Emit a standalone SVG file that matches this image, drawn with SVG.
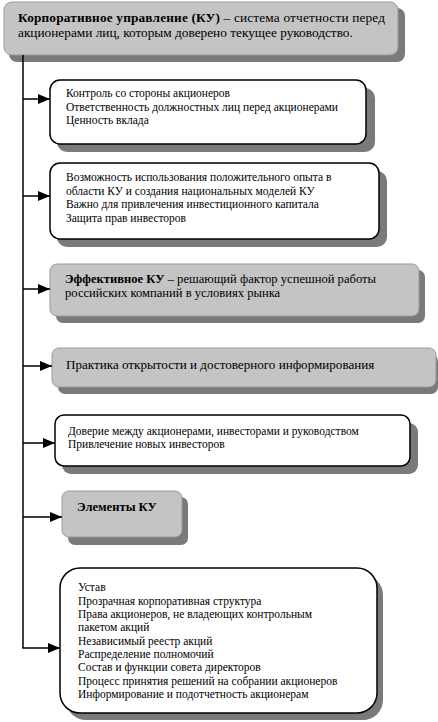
<svg xmlns="http://www.w3.org/2000/svg" width="438" height="722" viewBox="0 0 438 722">
<defs>
<marker id="ah" viewBox="0 0 12 10" refX="12" refY="5" markerWidth="12" markerHeight="10" markerUnits="userSpaceOnUse" orient="auto">
<path d="M0,0 L12,5 L0,10 Z" fill="#000"/>
</marker>
<style>
.t{font-family:"Liberation Serif","Times New Roman",Times,serif;fill:#000}
.s11{font-size:11.5px}
.s12{font-size:12.6px}
.s13{font-size:13.3px}
.p13{font-size:13.1px}
.b{font-weight:bold}
.sh{fill:#7a7a7a}
.gray{fill:#c4c4c4;stroke:#9a9a9a;stroke-width:1}
.white{fill:#fff;stroke:#000;stroke-width:1.5}
.ln{stroke:#000;stroke-width:1.5;fill:none}
</style>
</defs>
<rect width="438" height="722" fill="#fff"/>

<g id="n-top">
<rect x="9" y="8" width="396" height="54" rx="8" class="sh"/>
<rect x="4" y="2" width="394" height="53" rx="8" class="gray"/>
<text class="t s13" x="18" y="22" textLength="367" lengthAdjust="spacing"><tspan class="b">Корпоративное управление (КУ)</tspan> – система отчетности перед</text>
<text class="t s13" x="18" y="37">акционерами лиц, которым доверено текущее руководство.</text>
</g>

<g id="n-control">
<rect x="57" y="88" width="318" height="64" rx="10" class="sh"/>
<rect x="50" y="80" width="316" height="64" rx="10" class="white"/>
<text class="t s11" x="66" y="97">Контроль со стороны акционеров</text>
<text class="t s11" x="66" y="110.5">Ответственность должностных лиц перед акционерами</text>
<text class="t s11" x="66" y="124">Ценность вклада</text>
</g>

<g id="n-opportunity">
<rect x="57" y="171" width="330" height="76" rx="10" class="sh"/>
<rect x="50" y="163" width="329" height="76" rx="10" class="white"/>
<text class="t s11" x="66" y="181">Возможность использования положительного опыта в</text>
<text class="t s11" x="66" y="194.5">области КУ и создания национальных моделей КУ</text>
<text class="t s11" x="66" y="208">Важно для привлечения инвестиционного капитала</text>
<text class="t s11" x="66" y="221.5">Защита прав инвесторов</text>
</g>

<g id="n-effective">
<rect x="56" y="270" width="369" height="53" rx="7" class="sh"/>
<rect x="50" y="264" width="369" height="52" rx="7" class="gray"/>
<text class="t s12" x="65" y="283"><tspan class="b">Эффективное КУ</tspan> – решающий фактор успешной работы</text>
<text class="t s12" x="65" y="297">российских компаний в условиях рынка</text>
</g>

<g id="n-practice">
<rect x="58" y="354" width="380" height="40" rx="7" class="sh"/>
<rect x="52" y="348" width="384" height="39" rx="7" class="gray"/>
<text class="t p13" x="66" y="369">Практика открытости и достоверного информирования</text>
</g>

<g id="n-trust">
<rect x="62" y="423" width="356" height="51" rx="9" class="sh"/>
<rect x="55" y="415" width="355" height="51" rx="9" class="white"/>
<text class="t s11" x="68" y="435">Доверие между акционерами, инвесторами и руководством</text>
<text class="t s11" x="68" y="448">Привлечение новых инвесторов</text>
</g>

<g id="n-elements">
<rect x="68" y="497" width="120" height="48" rx="7" class="sh"/>
<rect x="62" y="491" width="120" height="46" rx="7" class="gray"/>
<text class="t s12 b" x="77" y="511">Элементы КУ</text>
</g>

<g id="n-list">
<rect x="66" y="575" width="317" height="145" rx="20" class="sh"/>
<rect x="60" y="568" width="317" height="145" rx="20" class="white"/>
<text class="t s11" x="78" y="591">Устав</text>
<text class="t s11" x="78" y="604.5">Прозрачная корпоративная структура</text>
<text class="t s11" x="78" y="618">Права акционеров, не владеющих контрольным</text>
<text class="t s11" x="78" y="631">пакетом акций</text>
<text class="t s11" x="78" y="644.5">Независимый реестр акций</text>
<text class="t s11" x="78" y="658">Распределение полномочий</text>
<text class="t s11" x="78" y="671">Состав и функции совета директоров</text>
<text class="t s11" x="78" y="684.5">Процесс принятия решений на собрании акционеров</text>
<text class="t s11" x="78" y="698">Информирование и подотчетность акционерам</text>
</g>

<g id="connectors">
<path class="ln" d="M23,55 V648"/>
<path class="ln" d="M23,99 H50" marker-end="url(#ah)"/>
<path class="ln" d="M23,196 H50" marker-end="url(#ah)"/>
<path class="ln" d="M23,289 H50" marker-end="url(#ah)"/>
<path class="ln" d="M23,366 H52" marker-end="url(#ah)"/>
<path class="ln" d="M23,443 H55" marker-end="url(#ah)"/>
<path class="ln" d="M23,517 H62" marker-end="url(#ah)"/>
<path class="ln" d="M22.25,648 H60" marker-end="url(#ah)"/>
</g>
</svg>
